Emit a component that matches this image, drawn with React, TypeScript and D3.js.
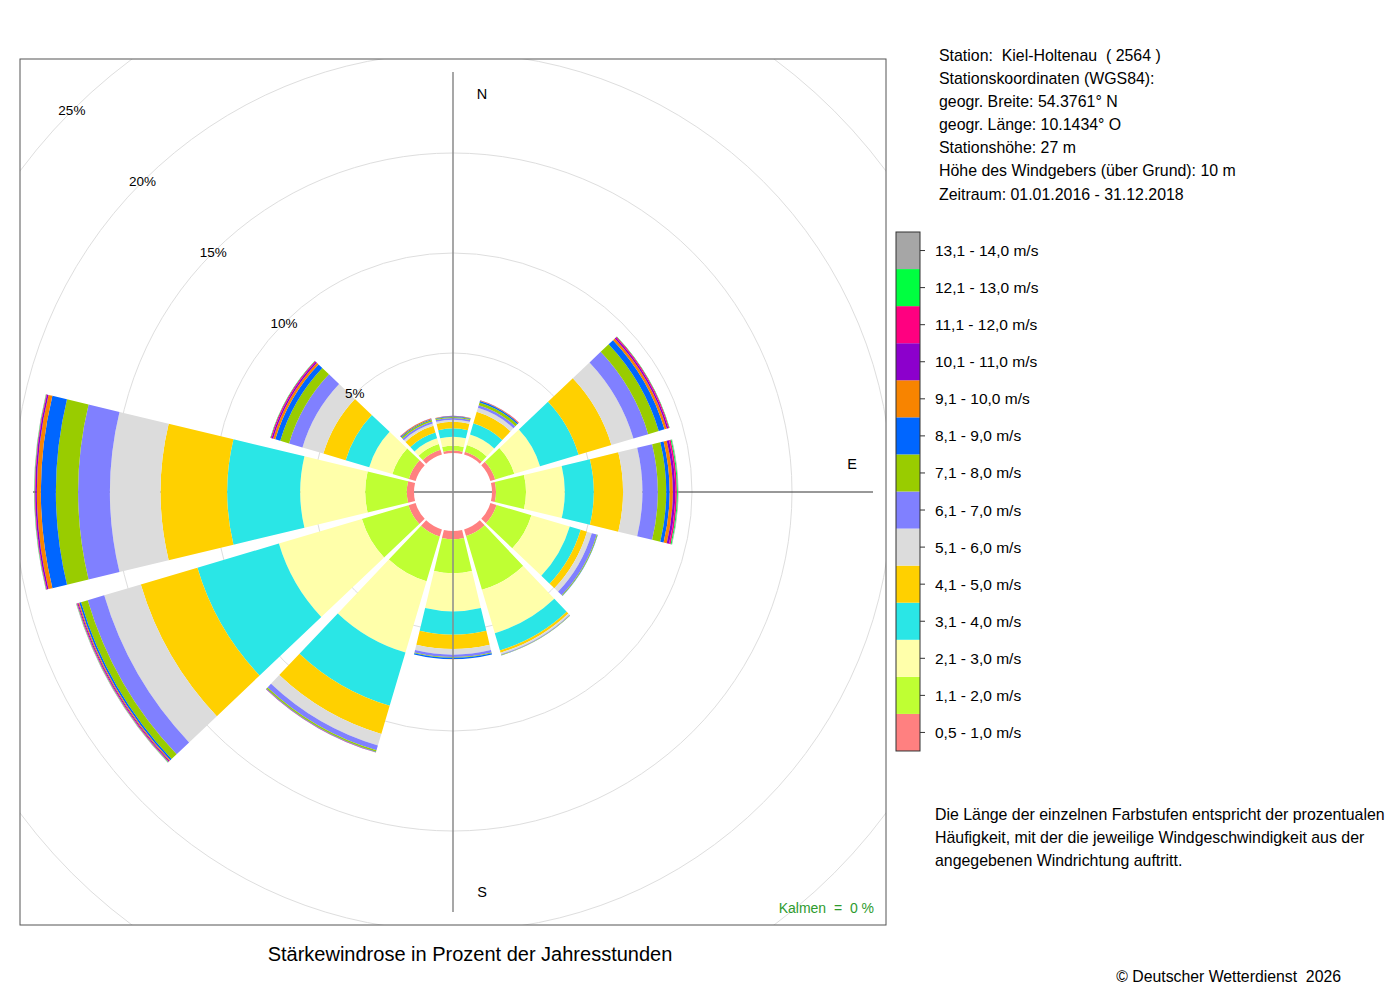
import { useMemo } from 'react';
import * as d3 from 'd3';

// Richtungen (Grad, im Uhrzeigersinn ab Nord)
const directions = [0, 30, 60, 90, 120, 150, 180, 210, 240, 270, 300, 330];

// Geschwindigkeitsklassen
const speedLabels = [
  '0,5 - 1,0 m/s',
  '1,1 - 2,0 m/s',
  '2,1 - 3,0 m/s',
  '3,1 - 4,0 m/s',
  '4,1 - 5,0 m/s',
  '5,1 - 6,0 m/s',
  '6,1 - 7,0 m/s',
  '7,1 - 8,0 m/s',
  '8,1 - 9,0 m/s',
  '9,1 - 10,0 m/s',
  '10,1 - 11,0 m/s',
  '11,1 - 12,0 m/s',
  '12,1 - 13,0 m/s',
  '13,1 - 14,0 m/s',
];
const speedColors = [
  '#FF8080', '#BFFF33', '#FFFFAA', '#2AE6E6', '#FFD000', '#DCDCDC', '#8080FF',
  '#99CC00', '#0066FF', '#F88400', '#8C00CC', '#FF0080', '#00FF40', '#A6A6A6',
];

// Prozent der Jahresstunden je Klasse (0,5-1,0 ... 13,1-14,0)
const pN = [0.12, 0.24, 0.45, 0.42, 0.33, 0.1, 0.09, 0.05, 0.03, 0.02, 0.01, 0, 0, 0];
const pNNE = [0.15, 0.35, 0.55, 0.58, 0.6, 0.21, 0.14, 0.14, 0.07, 0.03, 0.01, 0.01, 0, 0];
const pENE = [0.25, 1.0, 1.34, 2.01, 1.71, 1.15, 0.77, 0.55, 0.3, 0.12, 0.08, 0.05, 0.02, 0];
const pE = [0.2, 1.5, 1.94, 1.45, 1.46, 0.97, 0.77, 0.42, 0.17, 0.16, 0.12, 0.08, 0.05, 0.03];
const pSE = [0.32, 1.82, 2.0, 0.57, 0.33, 0.25, 0.26, 0.04, 0.01, 0, 0, 0, 0, 0];
const pSSE = [0.35, 2.8, 2.26, 0.9, 0.12, 0.08, 0.03, 0.02, 0.01, 0, 0, 0, 0, 0];
const pS = [0.41, 1.7, 1.91, 1.17, 0.71, 0.28, 0.12, 0.04, 0.06, 0.01, 0, 0, 0, 0];
const pSW = [0.37, 2.34, 3.71, 2.78, 1.47, 0.6, 0.25, 0.08, 0.02, 0.01, 0.01, 0, 0, 0];
const pWSW = [0.37, 2.43, 4.33, 4.25, 2.95, 1.91, 0.86, 0.35, 0.09, 0.05, 0.05, 0.03, 0.02, 0.02];
const pW = [0.36, 2.08, 3.25, 3.65, 3.33, 2.53, 1.59, 1.11, 0.75, 0.2, 0.08, 0.03, 0.02, 0.01];
const pWNW = [0.35, 0.86, 1.21, 1.23, 1.16, 1.09, 0.7, 0.46, 0.26, 0.11, 0.08, 0.05, 0.02, 0];
const pNNW = [0.25, 0.3, 0.3, 0.3, 0.35, 0.12, 0.1, 0.08, 0.05, 0.03, 0.02, 0, 0, 0];
const sectorValues = [pN, pNNE, pENE, pE, pSE, pSSE, pS, pSW, pWSW, pW, pWNW, pNNW];

const gridTicks = [5, 10, 15, 20, 25];

const infoLines = [
  'Station:  Kiel-Holtenau  ( 2564 )',
  'Stationskoordinaten (WGS84):',
  'geogr. Breite: 54.3761° N',
  'geogr. Länge: 10.1434° O',
  'Stationshöhe: 27 m',
  'Höhe des Windgebers (über Grund): 10 m',
  'Zeitraum: 01.01.2016 - 31.12.2018',
];
const noteLines = [
  'Die Länge der einzelnen Farbstufen entspricht der prozentualen',
  'Häufigkeit, mit der die jeweilige Windgeschwindigkeit aus der',
  'angegebenen Windrichtung auftritt.',
];

const FONT = 'Liberation Sans, Arial, Helvetica, sans-serif';

const App = () => {
  const cx = 453;
  const cy = 492;
  const box = { x: 20, y: 59, w: 866, h: 866 };
  const rScale = d3.scaleLinear().domain([0, 25]).range([39, 539]);
  const halfWidth = (13.5 * Math.PI) / 180;

  const segments = useMemo(() => {
    const arc = d3.arc();
    const out: { d: string; fill: string; key: string }[] = [];
    directions.forEach((deg, i) => {
      const a = (deg * Math.PI) / 180;
      let cum = 0;
      sectorValues[i].forEach((v, k) => {
        if (v <= 0) return;
        const d = arc({
          innerRadius: rScale(cum),
          outerRadius: rScale(cum + v),
          startAngle: a - halfWidth,
          endAngle: a + halfWidth,
        } as any) as string;
        cum += v;
        out.push({ d, fill: speedColors[k], key: `${deg}-${k}` });
      });
    });
    return out;
  }, []);

  const legendTop = 232;
  const legendH = 37.07;
  const legendScale = d3
    .scaleBand<number>()
    .domain(d3.range(speedLabels.length).reverse())
    .range([legendTop, legendTop + legendH * speedLabels.length]);

  const diag = Math.SQRT1_2;

  return (
    <svg
      width={1400}
      height={1000}
      style={{ position: 'absolute', left: 0, top: 0, background: '#fff' }}
      fontFamily={FONT}
    >
      <defs>
        <clipPath id="plotClip">
          <rect x={box.x} y={box.y} width={box.w} height={box.h} />
        </clipPath>
      </defs>

      {/* Gitterkreise */}
      <g clipPath="url(#plotClip)">
        {gridTicks.map(t => (
          <circle key={t} cx={cx} cy={cy} r={rScale(t)} fill="none" stroke="#dedede" strokeWidth={1} />
        ))}
      </g>

      {/* Ost-West-Achse */}
      <line x1={cx - 420} x2={cx + 420} y1={cy} y2={cy} stroke="#333" strokeWidth={1} />

      {/* Sektoren */}
      <g transform={`translate(${cx},${cy})`}>
        {segments.map(s => (
          <path key={s.key} d={s.d} fill={s.fill} />
        ))}
      </g>

      {/* Nord-Sued-Achse */}
      <line x1={cx} x2={cx} y1={cy - 420} y2={cy + 420} stroke="#8a8a8a" strokeWidth={1.5} />

      {/* Prozentbeschriftung */}
      {gridTicks.map(t => (
        <text
          key={t}
          x={cx - rScale(t) * diag}
          y={cy - rScale(t) * diag}
          textAnchor="middle"
          dominantBaseline="central"
          fontSize={13.5}
          fill="#000"
        >
          {t}%
        </text>
      ))}

      <text x={482} y={94} textAnchor="middle" dominantBaseline="central" fontSize={14.5}>N</text>
      <text x={852} y={464} textAnchor="middle" dominantBaseline="central" fontSize={14.5}>E</text>
      <text x={482} y={892} textAnchor="middle" dominantBaseline="central" fontSize={14.5}>S</text>

      <text
        x={874}
        y={908}
        textAnchor="end"
        dominantBaseline="central"
        fontSize={14}
        fill="#2E9B2E"
        style={{ whiteSpace: 'pre' }}
      >
        {'Kalmen  =  0 %'}
      </text>

      <rect x={box.x} y={box.y} width={box.w} height={box.h} fill="none" stroke="#555" strokeWidth={1} />

      <text x={470} y={954} textAnchor="middle" dominantBaseline="central" fontSize={20}>
        Stärkewindrose in Prozent der Jahresstunden
      </text>

      {/* Stationsangaben */}
      {infoLines.map((l, i) => (
        <text
          key={i}
          x={939}
          y={55 + i * 23.17}
          dominantBaseline="central"
          fontSize={15.9}
          style={{ whiteSpace: 'pre' }}
        >
          {l}
        </text>
      ))}

      {/* Legende */}
      <g>
        {speedLabels.map((l, k) => {
          const y = legendScale(k) ?? 0;
          return (
            <g key={l}>
              <rect x={896} y={y} width={24} height={legendScale.bandwidth()} fill={speedColors[k]} />
              <line x1={920} x2={925} y1={y + legendScale.bandwidth() / 2} y2={y + legendScale.bandwidth() / 2} stroke="#333" />
              <text x={935} y={y + legendScale.bandwidth() / 2} dominantBaseline="central" fontSize={15.5}>
                {l}
              </text>
            </g>
          );
        })}
        <rect
          x={896}
          y={legendTop}
          width={24}
          height={legendH * speedLabels.length}
          fill="none"
          stroke="#333"
          strokeWidth={1}
        />
      </g>

      {noteLines.map((l, i) => (
        <text key={i} x={935} y={814 + i * 23} dominantBaseline="central" fontSize={15.9}>
          {l}
        </text>
      ))}

      <text x={1341} y={976} textAnchor="end" dominantBaseline="central" fontSize={15.8} style={{ whiteSpace: 'pre' }}>
        {'© Deutscher Wetterdienst  2026'}
      </text>
    </svg>
  );
};

export default App;
